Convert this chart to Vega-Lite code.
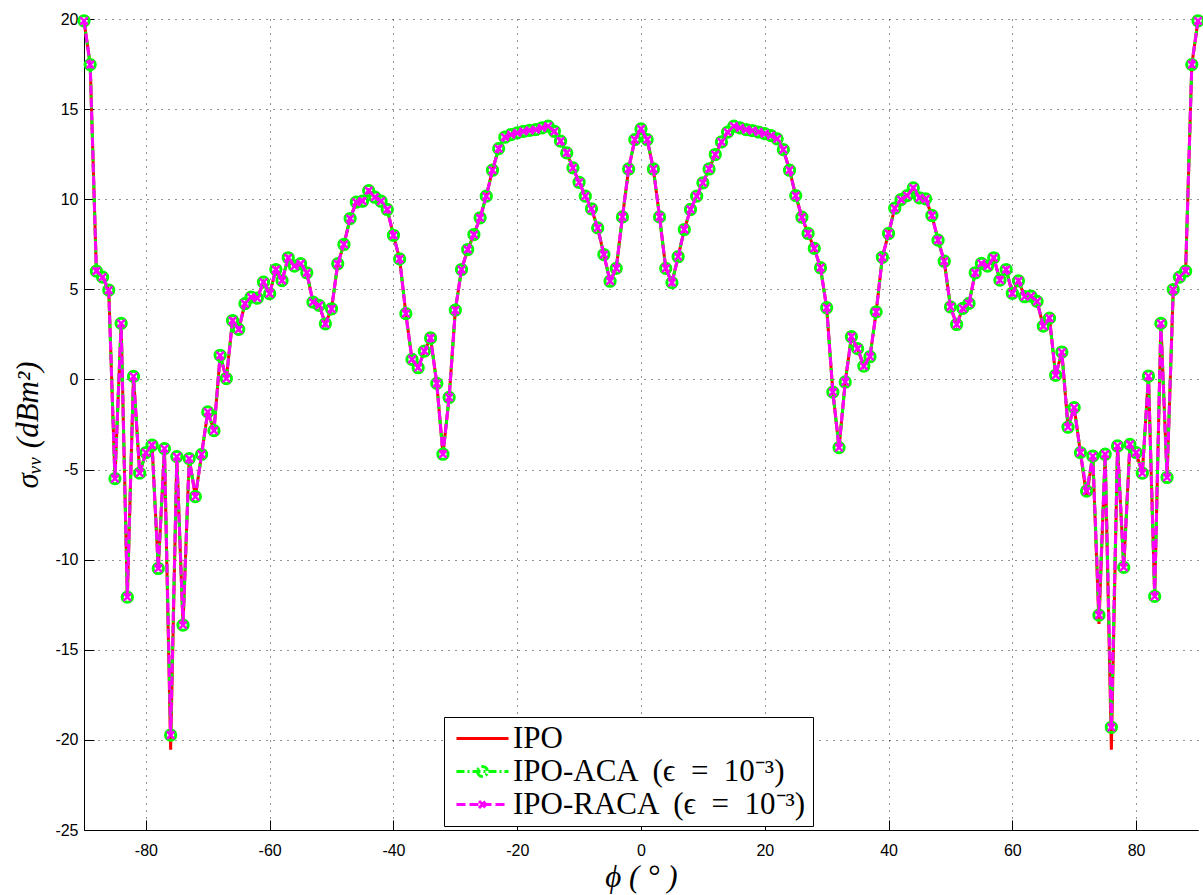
{
  "$schema": "https://vega.github.io/schema/vega-lite/v6.json",
  "width": 1114,
  "height": 811,
  "autosize": "none",
  "padding": {"left": 84, "top": 19, "right": 5, "bottom": 65},
  "background": "white",
  "config": {
    "view": {"stroke": null},
    "axis": {
      "grid": true,
      "gridColor": "#000000",
      "gridDash": [1, 6],
      "gridWidth": 1,
      "gridOpacity": 0.85,
      "domainColor": "#000000",
      "domainWidth": 1,
      "ticks": true,
      "tickColor": "#000000",
      "tickWidth": 1,
      "tickSize": -10,
      "labelFont": "Liberation Sans",
      "labelFontSize": 16,
      "labelColor": "#000000",
      "labelExpr": "'' + datum.value",
      "titleFont": "Liberation Serif",
      "titleFontStyle": "italic",
      "titleFontWeight": "normal",
      "titleFontSize": 31,
      "titleColor": "#000000"
    }
  },
  "data": {
    "values": [
      {"phi": -90, "ipo": 19.9, "aca": 19.9, "raca": 19.9},
      {"phi": -89, "ipo": 17.47, "aca": 17.47, "raca": 17.47},
      {"phi": -88, "ipo": 6.01, "aca": 6.01, "raca": 6.01},
      {"phi": -87, "ipo": 5.68, "aca": 5.68, "raca": 5.68},
      {"phi": -86, "ipo": 4.96, "aca": 4.96, "raca": 4.96},
      {"phi": -85, "ipo": -5.5, "aca": -5.5, "raca": -5.5},
      {"phi": -84, "ipo": 3.11, "aca": 3.11, "raca": 3.11},
      {"phi": -83, "ipo": -12.08, "aca": -12.08, "raca": -12.08},
      {"phi": -82, "ipo": 0.17, "aca": 0.17, "raca": 0.17},
      {"phi": -81, "ipo": -5.2, "aca": -5.2, "raca": -5.2},
      {"phi": -80, "ipo": -4.06, "aca": -4.06, "raca": -4.06},
      {"phi": -79, "ipo": -3.65, "aca": -3.65, "raca": -3.65},
      {"phi": -78, "ipo": -10.49, "aca": -10.49, "raca": -10.49},
      {"phi": -77, "ipo": -3.84, "aca": -3.84, "raca": -3.84},
      {"phi": -76, "ipo": -20.54, "aca": -19.73, "raca": -19.73},
      {"phi": -75, "ipo": -4.28, "aca": -4.28, "raca": -4.28},
      {"phi": -74, "ipo": -13.63, "aca": -13.63, "raca": -13.63},
      {"phi": -73, "ipo": -4.39, "aca": -4.39, "raca": -4.39},
      {"phi": -72, "ipo": -6.5, "aca": -6.5, "raca": -6.5},
      {"phi": -71, "ipo": -4.16, "aca": -4.16, "raca": -4.16},
      {"phi": -70, "ipo": -1.8, "aca": -1.8, "raca": -1.8},
      {"phi": -69, "ipo": -2.84, "aca": -2.84, "raca": -2.84},
      {"phi": -68, "ipo": 1.34, "aca": 1.34, "raca": 1.34},
      {"phi": -67, "ipo": 0.05, "aca": 0.05, "raca": 0.05},
      {"phi": -66, "ipo": 3.27, "aca": 3.27, "raca": 3.27},
      {"phi": -65, "ipo": 2.78, "aca": 2.78, "raca": 2.78},
      {"phi": -64, "ipo": 4.21, "aca": 4.21, "raca": 4.21},
      {"phi": -63, "ipo": 4.57, "aca": 4.57, "raca": 4.57},
      {"phi": -62, "ipo": 4.51, "aca": 4.51, "raca": 4.51},
      {"phi": -61, "ipo": 5.4, "aca": 5.4, "raca": 5.4},
      {"phi": -60, "ipo": 4.76, "aca": 4.76, "raca": 4.76},
      {"phi": -59, "ipo": 6.1, "aca": 6.1, "raca": 6.1},
      {"phi": -58, "ipo": 5.49, "aca": 5.49, "raca": 5.49},
      {"phi": -57, "ipo": 6.75, "aca": 6.75, "raca": 6.75},
      {"phi": -56, "ipo": 6.29, "aca": 6.29, "raca": 6.29},
      {"phi": -55, "ipo": 6.42, "aca": 6.42, "raca": 6.42},
      {"phi": -54, "ipo": 5.92, "aca": 5.92, "raca": 5.92},
      {"phi": -53, "ipo": 4.29, "aca": 4.29, "raca": 4.29},
      {"phi": -52, "ipo": 4.11, "aca": 4.11, "raca": 4.11},
      {"phi": -51, "ipo": 3.09, "aca": 3.09, "raca": 3.09},
      {"phi": -50, "ipo": 3.92, "aca": 3.92, "raca": 3.92},
      {"phi": -49, "ipo": 6.42, "aca": 6.42, "raca": 6.42},
      {"phi": -48, "ipo": 7.49, "aca": 7.49, "raca": 7.49},
      {"phi": -47, "ipo": 8.93, "aca": 8.93, "raca": 8.93},
      {"phi": -46, "ipo": 9.84, "aca": 9.84, "raca": 9.84},
      {"phi": -45, "ipo": 9.89, "aca": 9.89, "raca": 9.89},
      {"phi": -44, "ipo": 10.48, "aca": 10.48, "raca": 10.48},
      {"phi": -43, "ipo": 10.11, "aca": 10.11, "raca": 10.11},
      {"phi": -42, "ipo": 9.89, "aca": 9.89, "raca": 9.89},
      {"phi": -41, "ipo": 9.43, "aca": 9.43, "raca": 9.43},
      {"phi": -40, "ipo": 8.0, "aca": 8.0, "raca": 8.0},
      {"phi": -39, "ipo": 6.69, "aca": 6.69, "raca": 6.69},
      {"phi": -38, "ipo": 3.65, "aca": 3.65, "raca": 3.65},
      {"phi": -37, "ipo": 1.11, "aca": 1.11, "raca": 1.11},
      {"phi": -36, "ipo": 0.65, "aca": 0.65, "raca": 0.65},
      {"phi": -35, "ipo": 1.57, "aca": 1.57, "raca": 1.57},
      {"phi": -34, "ipo": 2.3, "aca": 2.3, "raca": 2.3},
      {"phi": -33, "ipo": -0.22, "aca": -0.22, "raca": -0.22},
      {"phi": -32, "ipo": -4.15, "aca": -4.15, "raca": -4.15},
      {"phi": -31, "ipo": -1.0, "aca": -1.0, "raca": -1.0},
      {"phi": -30, "ipo": 3.85, "aca": 3.85, "raca": 3.85},
      {"phi": -29, "ipo": 6.1, "aca": 6.1, "raca": 6.1},
      {"phi": -28, "ipo": 7.21, "aca": 7.21, "raca": 7.21},
      {"phi": -27, "ipo": 8.04, "aca": 8.04, "raca": 8.04},
      {"phi": -26, "ipo": 8.97, "aca": 8.97, "raca": 8.97},
      {"phi": -25, "ipo": 10.17, "aca": 10.17, "raca": 10.17},
      {"phi": -24, "ipo": 11.61, "aca": 11.61, "raca": 11.61},
      {"phi": -23, "ipo": 12.81, "aca": 12.81, "raca": 12.81},
      {"phi": -22, "ipo": 13.44, "aca": 13.44, "raca": 13.44},
      {"phi": -21, "ipo": 13.59, "aca": 13.59, "raca": 13.59},
      {"phi": -20, "ipo": 13.68, "aca": 13.68, "raca": 13.68},
      {"phi": -19, "ipo": 13.77, "aca": 13.77, "raca": 13.77},
      {"phi": -18, "ipo": 13.82, "aca": 13.82, "raca": 13.82},
      {"phi": -17, "ipo": 13.86, "aca": 13.86, "raca": 13.86},
      {"phi": -16, "ipo": 13.96, "aca": 13.96, "raca": 13.96},
      {"phi": -15, "ipo": 14.05, "aca": 14.05, "raca": 14.05},
      {"phi": -14, "ipo": 13.77, "aca": 13.77, "raca": 13.77},
      {"phi": -13, "ipo": 13.22, "aca": 13.22, "raca": 13.22},
      {"phi": -12, "ipo": 12.57, "aca": 12.57, "raca": 12.57},
      {"phi": -11, "ipo": 11.74, "aca": 11.74, "raca": 11.74},
      {"phi": -10, "ipo": 10.94, "aca": 10.94, "raca": 10.94},
      {"phi": -9, "ipo": 10.17, "aca": 10.17, "raca": 10.17},
      {"phi": -8, "ipo": 9.47, "aca": 9.47, "raca": 9.47},
      {"phi": -7, "ipo": 8.41, "aca": 8.41, "raca": 8.41},
      {"phi": -6, "ipo": 6.93, "aca": 6.93, "raca": 6.93},
      {"phi": -5, "ipo": 5.45, "aca": 5.45, "raca": 5.45},
      {"phi": -4, "ipo": 6.16, "aca": 6.16, "raca": 6.16},
      {"phi": -3, "ipo": 9.02, "aca": 9.02, "raca": 9.02},
      {"phi": -2, "ipo": 11.68, "aca": 11.68, "raca": 11.68},
      {"phi": -1, "ipo": 13.31, "aca": 13.31, "raca": 13.31},
      {"phi": 0, "ipo": 13.9, "aca": 13.9, "raca": 13.9},
      {"phi": 1, "ipo": 13.31, "aca": 13.31, "raca": 13.31},
      {"phi": 2, "ipo": 11.68, "aca": 11.68, "raca": 11.68},
      {"phi": 3, "ipo": 9.02, "aca": 9.02, "raca": 9.02},
      {"phi": 4, "ipo": 6.16, "aca": 6.16, "raca": 6.16},
      {"phi": 5, "ipo": 5.37, "aca": 5.37, "raca": 5.37},
      {"phi": 6, "ipo": 6.81, "aca": 6.81, "raca": 6.81},
      {"phi": 7, "ipo": 8.32, "aca": 8.32, "raca": 8.32},
      {"phi": 8, "ipo": 9.43, "aca": 9.43, "raca": 9.43},
      {"phi": 9, "ipo": 10.17, "aca": 10.17, "raca": 10.17},
      {"phi": 10, "ipo": 10.91, "aca": 10.91, "raca": 10.91},
      {"phi": 11, "ipo": 11.68, "aca": 11.68, "raca": 11.68},
      {"phi": 12, "ipo": 12.48, "aca": 12.48, "raca": 12.48},
      {"phi": 13, "ipo": 13.18, "aca": 13.18, "raca": 13.18},
      {"phi": 14, "ipo": 13.72, "aca": 13.72, "raca": 13.72},
      {"phi": 15, "ipo": 14.05, "aca": 14.05, "raca": 14.05},
      {"phi": 16, "ipo": 13.96, "aca": 13.96, "raca": 13.96},
      {"phi": 17, "ipo": 13.86, "aca": 13.86, "raca": 13.86},
      {"phi": 18, "ipo": 13.81, "aca": 13.81, "raca": 13.81},
      {"phi": 19, "ipo": 13.73, "aca": 13.73, "raca": 13.73},
      {"phi": 20, "ipo": 13.64, "aca": 13.64, "raca": 13.64},
      {"phi": 21, "ipo": 13.53, "aca": 13.53, "raca": 13.53},
      {"phi": 22, "ipo": 13.35, "aca": 13.35, "raca": 13.35},
      {"phi": 23, "ipo": 12.75, "aca": 12.75, "raca": 12.75},
      {"phi": 24, "ipo": 11.61, "aca": 11.61, "raca": 11.61},
      {"phi": 25, "ipo": 10.2, "aca": 10.2, "raca": 10.2},
      {"phi": 26, "ipo": 9.0, "aca": 9.0, "raca": 9.0},
      {"phi": 27, "ipo": 8.1, "aca": 8.1, "raca": 8.1},
      {"phi": 28, "ipo": 7.27, "aca": 7.27, "raca": 7.27},
      {"phi": 29, "ipo": 6.2, "aca": 6.2, "raca": 6.2},
      {"phi": 30, "ipo": 3.98, "aca": 3.98, "raca": 3.98},
      {"phi": 31, "ipo": -0.7, "aca": -0.7, "raca": -0.7},
      {"phi": 32, "ipo": -3.78, "aca": -3.78, "raca": -3.78},
      {"phi": 33, "ipo": -0.14, "aca": -0.14, "raca": -0.14},
      {"phi": 34, "ipo": 2.37, "aca": 2.37, "raca": 2.37},
      {"phi": 35, "ipo": 1.71, "aca": 1.71, "raca": 1.71},
      {"phi": 36, "ipo": 0.74, "aca": 0.74, "raca": 0.74},
      {"phi": 37, "ipo": 1.26, "aca": 1.26, "raca": 1.26},
      {"phi": 38, "ipo": 3.75, "aca": 3.75, "raca": 3.75},
      {"phi": 39, "ipo": 6.78, "aca": 6.78, "raca": 6.78},
      {"phi": 40, "ipo": 8.1, "aca": 8.1, "raca": 8.1},
      {"phi": 41, "ipo": 9.5, "aca": 9.5, "raca": 9.5},
      {"phi": 42, "ipo": 9.98, "aca": 9.98, "raca": 9.98},
      {"phi": 43, "ipo": 10.2, "aca": 10.2, "raca": 10.2},
      {"phi": 44, "ipo": 10.63, "aca": 10.63, "raca": 10.63},
      {"phi": 45, "ipo": 10.08, "aca": 10.08, "raca": 10.08},
      {"phi": 46, "ipo": 10.02, "aca": 10.02, "raca": 10.02},
      {"phi": 47, "ipo": 9.1, "aca": 9.1, "raca": 9.1},
      {"phi": 48, "ipo": 7.73, "aca": 7.73, "raca": 7.73},
      {"phi": 49, "ipo": 6.56, "aca": 6.56, "raca": 6.56},
      {"phi": 50, "ipo": 4.03, "aca": 4.03, "raca": 4.03},
      {"phi": 51, "ipo": 3.05, "aca": 3.05, "raca": 3.05},
      {"phi": 52, "ipo": 3.94, "aca": 3.94, "raca": 3.94},
      {"phi": 53, "ipo": 4.22, "aca": 4.22, "raca": 4.22},
      {"phi": 54, "ipo": 5.92, "aca": 5.92, "raca": 5.92},
      {"phi": 55, "ipo": 6.44, "aca": 6.44, "raca": 6.44},
      {"phi": 56, "ipo": 6.29, "aca": 6.29, "raca": 6.29},
      {"phi": 57, "ipo": 6.75, "aca": 6.75, "raca": 6.75},
      {"phi": 58, "ipo": 5.51, "aca": 5.51, "raca": 5.51},
      {"phi": 59, "ipo": 6.1, "aca": 6.1, "raca": 6.1},
      {"phi": 60, "ipo": 4.78, "aca": 4.78, "raca": 4.78},
      {"phi": 61, "ipo": 5.47, "aca": 5.47, "raca": 5.47},
      {"phi": 62, "ipo": 4.59, "aca": 4.59, "raca": 4.59},
      {"phi": 63, "ipo": 4.62, "aca": 4.62, "raca": 4.62},
      {"phi": 64, "ipo": 4.33, "aca": 4.33, "raca": 4.33},
      {"phi": 65, "ipo": 2.96, "aca": 2.96, "raca": 2.96},
      {"phi": 66, "ipo": 3.4, "aca": 3.4, "raca": 3.4},
      {"phi": 67, "ipo": 0.23, "aca": 0.23, "raca": 0.23},
      {"phi": 68, "ipo": 1.52, "aca": 1.52, "raca": 1.52},
      {"phi": 69, "ipo": -2.65, "aca": -2.65, "raca": -2.65},
      {"phi": 70, "ipo": -1.56, "aca": -1.56, "raca": -1.56},
      {"phi": 71, "ipo": -4.06, "aca": -4.06, "raca": -4.06},
      {"phi": 72, "ipo": -6.5, "aca": -6.19, "raca": -6.19},
      {"phi": 73, "ipo": -4.25, "aca": -4.25, "raca": -4.25},
      {"phi": 74, "ipo": -13.57, "aca": -13.08, "raca": -13.08},
      {"phi": 75, "ipo": -4.15, "aca": -4.15, "raca": -4.15},
      {"phi": 76, "ipo": -20.54, "aca": -19.3, "raca": -19.3},
      {"phi": 77, "ipo": -3.69, "aca": -3.69, "raca": -3.69},
      {"phi": 78, "ipo": -10.43, "aca": -10.43, "raca": -10.43},
      {"phi": 79, "ipo": -3.6, "aca": -3.6, "raca": -3.6},
      {"phi": 80, "ipo": -4.06, "aca": -4.06, "raca": -4.06},
      {"phi": 81, "ipo": -5.2, "aca": -5.2, "raca": -5.2},
      {"phi": 82, "ipo": 0.19, "aca": 0.19, "raca": 0.19},
      {"phi": 83, "ipo": -12.04, "aca": -12.04, "raca": -12.04},
      {"phi": 84, "ipo": 3.11, "aca": 3.11, "raca": 3.11},
      {"phi": 85, "ipo": -5.44, "aca": -5.44, "raca": -5.44},
      {"phi": 86, "ipo": 4.99, "aca": 4.99, "raca": 4.99},
      {"phi": 87, "ipo": 5.68, "aca": 5.68, "raca": 5.68},
      {"phi": 88, "ipo": 6.01, "aca": 6.01, "raca": 6.01},
      {"phi": 89, "ipo": 17.47, "aca": 17.47, "raca": 17.47},
      {"phi": 90, "ipo": 19.9, "aca": 19.9, "raca": 19.9}
    ]
  },
  "transform": [{"fold": ["ipo", "aca", "raca"], "as": ["series", "v"]}],
  "encoding": {
    "x": {
      "field": "phi",
      "type": "quantitative",
      "scale": {"domain": [-90, 90], "nice": false, "zero": false},
      "axis": {
        "values": [-80, -60, -40, -20, 0, 20, 40, 60, 80],
        "title": "ϕ ( ° )",
        "labelPadding": 22,
        "titlePadding": 4
      }
    },
    "y": {
      "field": "v",
      "type": "quantitative",
      "scale": {"domain": [-25, 20], "nice": false, "zero": false},
      "axis": {
        "values": [-25, -20, -15, -10, -5, 0, 5, 10, 15, 20],
        "title": "σᵥᵥ  (dBm²)",
        "labelPadding": 16,
        "titlePadding": 10
      }
    }
  },
  "layer": [
    {
      "transform": [{"filter": "datum.series == 'ipo'"}],
      "mark": {"type": "line", "strokeWidth": 3, "clip": false},
      "encoding": {
        "color": {
          "field": "series",
          "type": "nominal",
          "scale": {"domain": ["ipo", "aca", "raca"], "range": ["#ff0000", "#00ff00", "#ff00ff"]},
          "legend": {
            "title": null,
            "orient": "none",
            "legendX": 360,
            "legendY": 698,
            "fillColor": "white",
            "strokeColor": "#000000",
            "padding": 6,
            "labelFont": "Liberation Serif",
            "labelFontSize": 31,
            "labelColor": "#000000",
            "labelLimit": 0,
            "labelOffset": 15,
            "symbolOffset": 17,
            "symbolSize": 400,
            "symbolStrokeWidth": 3,
            "rowPadding": 1,
            "labelExpr": "datum.value == 'ipo' ? 'IPO' : datum.value == 'aca' ? 'IPO-ACA \u00a0(ϵ \u00a0= \u00a010⁻³)' : 'IPO-RACA \u00a0(ϵ \u00a0= \u00a010⁻³)'",
            "encode": {
              "symbols": {
                "update": {
                  "shape": {"signal": "datum.value == 'ipo' ? 'M-2.6,0H2.6' : datum.value == 'aca' ? 'M-2.6,0H2.6M-0.5,0A0.5,0.5 0 1,0 0.5,0A0.5,0.5 0 1,0 -0.5,0' : 'M-2.6,0H2.6M-0.35,-0.35L0.35,0.35M-0.35,0.35L0.35,-0.35'"},
                  "strokeDash": {"signal": "datum.value == 'ipo' ? [1, 0] : datum.value == 'aca' ? [8, 3, 2, 3] : [9, 4]"},
                  "fill": {"value": "white"}
                }
              }
            }
          }
        }
      }
    },
    {
      "transform": [{"filter": "datum.series == 'aca'"}],
      "mark": {"type": "line", "strokeWidth": 3, "strokeDash": [8, 3, 2, 3], "clip": false},
      "encoding": {"color": {"field": "series", "type": "nominal"}}
    },
    {
      "transform": [{"filter": "datum.series == 'aca'"}],
      "mark": {"type": "point", "shape": "circle", "filled": false, "stroke": "#00ff00", "strokeWidth": 3, "size": 105, "opacity": 1, "clip": false}
    },
    {
      "transform": [{"filter": "datum.series == 'raca'"}],
      "mark": {"type": "line", "strokeWidth": 3, "strokeDash": [9, 4], "clip": false},
      "encoding": {"color": {"field": "series", "type": "nominal"}}
    },
    {
      "transform": [{"filter": "datum.series == 'raca'"}],
      "mark": {"type": "point", "shape": "M-1,-1L1,1M-1,1L1,-1", "filled": false, "stroke": "#ff00ff", "strokeWidth": 2.5, "size": 56, "opacity": 1, "clip": false}
    }
  ]
}
